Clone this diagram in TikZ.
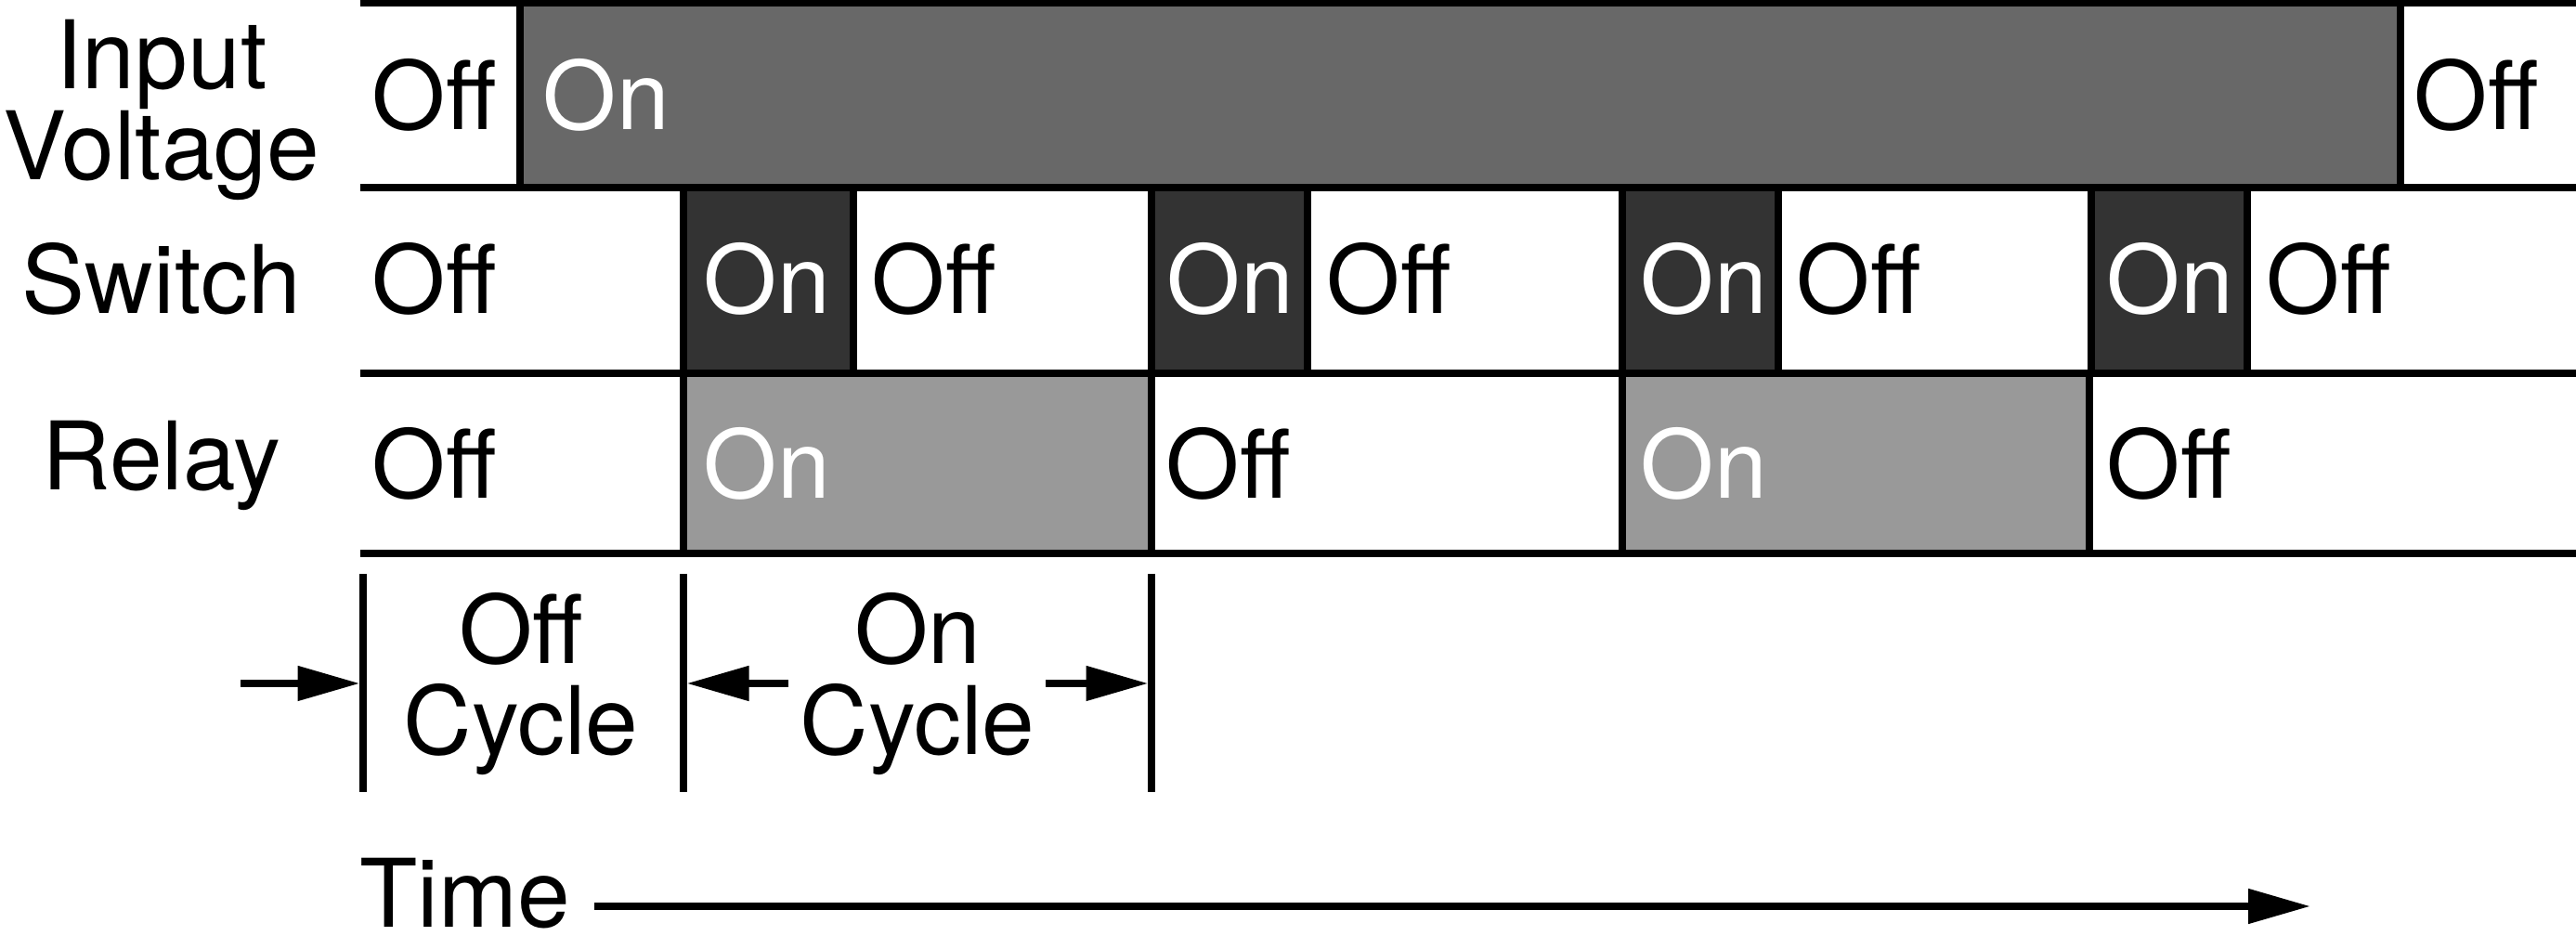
\documentclass[tikz,border=0pt]{standalone}
\usepackage{fontspec}
\setmainfont{TeX Gyre Heros}
\usetikzlibrary{arrows.meta}
\definecolor{inputon}{HTML}{686868}
\definecolor{switchon}{HTML}{333333}
\definecolor{relayon}{HTML}{999999}

\begin{document}
\begin{tikzpicture}
\tikzset{
rowline/.style={line width=0.075cm},
onbox/.style={draw=black, line width=0.075cm},
state/.style={anchor=base west, inner sep=0pt, font=\fontsize{29}{28}\selectfont},
rowlabel/.style={anchor=base, inner sep=0pt, align=center, font=\fontsize{29}{28}\selectfont},
marker/.style={line width=0.075cm},
myarrow/.style={-{Triangle[length=0.67cm,width=0.36cm]}, line width=0.08cm, shorten >=0.035cm},
}
\useasboundingbox (0,0) rectangle (27.74,10.08);

\node [rowlabel] (involtage) at (1.74,8.14) {Input\\Voltage};
\node [rowlabel] (switchlbl) at (1.74,6.70) {Switch};
\node [rowlabel] (relaylbl) at (1.74,4.80) {Relay};

% on periods
\filldraw[onbox, fill=inputon] (5.60,8.06) rectangle (25.85,10.045);
\foreach \x/\w in {7.36/1.83,12.40/1.68,17.47/1.68,22.52/1.68}
  \filldraw[onbox, fill=switchon] (\x,6.06) rectangle ++(\w,2.0);
\foreach \x/\w in {7.36/5.04,17.47/5.03}
  \filldraw[onbox, fill=relayon] (\x,4.12) rectangle ++(\w,1.94);
\foreach \y in {10.045,8.06,6.06,4.12}
  \draw[rowline] (3.875,\y) -- (27.74,\y);

\foreach \x/\t/\c [count=\i] in {4.00/Off/black,5.84/On/white,25.99/Off/black}
  \node[state, text=\c] (in\i) at (\x,8.685) {\t};
\foreach \x/\t/\c [count=\i] in {4.00/Off/black,7.57/On/white,9.38/Off/black,12.56/On/white,14.28/Off/black,17.66/On/white,19.34/Off/black,22.68/On/white,24.40/Off/black}
  \node[state, text=\c] (sw\i) at (\x,6.705) {\t};
\foreach \x/\t/\c [count=\i] in {4.00/Off/black,7.57/On/white,12.55/Off/black,17.66/On/white,22.68/Off/black}
  \node[state, text=\c] (rl\i) at (\x,4.715) {\t};

% cycle markers
\foreach \x [count=\i] in {3.91,7.36,12.40} {
  \coordinate (mtop\i) at (\x,3.90);
  \coordinate (mbot\i) at (\x,1.55);
  \draw[marker] (mtop\i) -- (mbot\i);
}
\coordinate (offtail) at (2.59,2.72);
\coordinate (ontail1) at (8.49,2.72);
\coordinate (ontail2) at (11.26,2.72);
\draw[myarrow] (offtail) -- (offtail -| mtop1);
\draw[myarrow] (ontail1) -- (ontail1 -| mtop2);
\draw[myarrow] (ontail2) -- (ontail2 -| mtop3);
\node [rowlabel] (offcycle) at (5.61,1.95) {Off\\Cycle};
\node [rowlabel] (oncycle) at (9.88,1.95) {On\\Cycle};

\node [state] (time) at (3.87,0.09) {Time};
\coordinate (tstart) at (6.40,0.32);
\coordinate (tend) at (24.88,0.32);
\draw[myarrow, shorten >=0pt] (tstart) -- (tend);
\end{tikzpicture}
\end{document}
